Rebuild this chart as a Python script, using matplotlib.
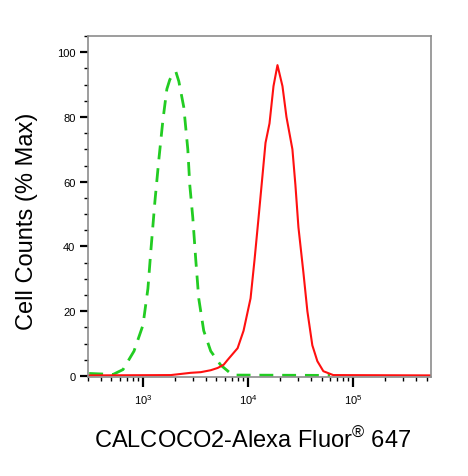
import matplotlib
matplotlib.use("Agg")
import matplotlib.pyplot as plt
from matplotlib.ticker import LogLocator, MultipleLocator, NullFormatter

plt.rcParams['font.family'] = ['Liberation Sans', 'DejaVu Sans']
plt.rcParams['mathtext.fontset'] = 'custom'
plt.rcParams['mathtext.rm'] = 'Liberation Sans'
plt.rcParams['mathtext.it'] = 'Liberation Sans:italic'
plt.rcParams['mathtext.bf'] = 'Liberation Sans:bold'

# isotype control (green dashed)
ctrl_x = [308, 520, 646, 822, 1000, 1115, 1191, 1300, 1418, 1548, 1688, 1800,
          1882, 2054, 2194, 2446, 2671, 2789, 2978, 3178, 3393, 3785, 4413,
          5487, 7125, 60300]
ctrl_y = [0.8, 0.5, 2, 7.7, 15.7, 27, 39, 54, 67, 79, 88.6, 91.5,
          92.6, 94, 91, 83, 70, 59, 49, 36, 24, 14, 7.7,
          3.4, 0.3, 0.2]

# CALCOCO2 stained sample (red solid)
samp_x = [308, 1842, 2850, 3548, 4413, 5140, 5861, 6392, 7950, 9060, 10560,
          11530, 12590, 13720, 14650, 15990, 17450, 19040, 21240, 23180, 26410,
          28200, 30120, 33590, 36660, 40850, 45600, 52000, 64600, 550000]
samp_y = [0.2, 0.3, 1, 1.2, 1.8, 2.5, 3.5, 5, 8.6, 14, 24,
          36, 49, 62, 72, 78, 89.5, 96, 89.5, 80, 70,
          59, 46, 32, 20, 9.5, 4.6, 1.5, 0.3, 0.2]

fig = plt.figure(figsize=(4.68, 4.77), dpi=100)
ax = fig.add_axes([0.188, 0.2075, 0.733, 0.715])

ax.plot(ctrl_x, ctrl_y, color='#22cc22', lw=2.0, ls=(0, (5, 3.2)))
ax.plot(samp_x, samp_y, color='#ff1010', lw=1.5)

ax.set_xscale('log')
ax.set_xlim(300, 5.5e5)
ax.set_ylim(-0.3, 105)

ax.xaxis.set_major_locator(LogLocator(base=10, numticks=10))
ax.xaxis.set_minor_locator(LogLocator(base=10, subs=range(2, 10), numticks=20))
ax.xaxis.set_minor_formatter(NullFormatter())
ax.yaxis.set_major_locator(MultipleLocator(20))
ax.yaxis.set_minor_locator(MultipleLocator(5))

for s in ax.spines.values():
    s.set_color('#8c8c8c')
    s.set_linewidth(1.2)

ax.tick_params(axis='both', which='major', direction='out', length=6,
               width=1.6, color='black', labelsize=8, pad=3)
ax.tick_params(axis='both', which='minor', direction='out', length=3,
               width=1.0, color='black')
ax.tick_params(axis='x', which='major', length=7, pad=4)

ax.set_ylabel('Cell Counts (% Max)', fontsize=17)
ax.set_xlabel('CALCOCO2-Alexa Fluor$^{®}$ 647', fontsize=17)
ax.yaxis.set_label_coords(-0.145, 0.46)
ax.xaxis.set_label_coords(0.48, -0.145)

fig.savefig('out.png', dpi=100)
